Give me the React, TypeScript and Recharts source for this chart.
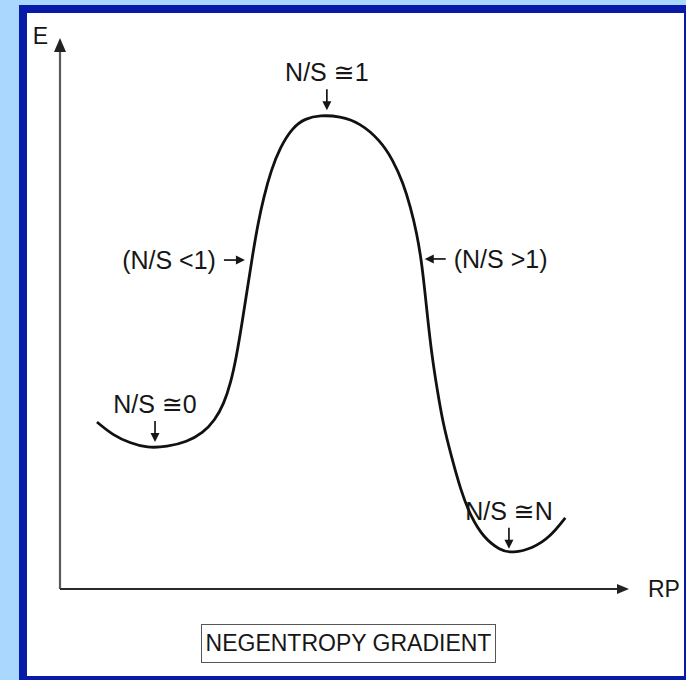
import { LineChart, Line, XAxis, YAxis, ReferenceLine, ReferenceDot } from 'recharts';

// reaction progress (RP) and energy (E), both on a 0-100 scale
const rp = [
  6.5, 9.3, 12.3, 15.3, 18.8, 22.3, 25.1, 27.2, 28.8, 30.0, 31.0, 32.0, 32.9, 33.8, 34.8,
  35.8, 37.1, 38.7, 40.9, 43.1, 45.7, 49.2, 52.7, 56.2, 58.5, 60.3, 61.6, 62.7, 63.5, 64.1,
  64.7, 65.4, 66.3, 67.3, 68.8, 70.4, 72.2, 74.4, 77.3, 79.6, 83.1, 86.1, 88.8,
];
const energy = [
  30.3, 27.9, 26.5, 25.6, 25.8, 26.7, 28.3, 30.6, 33.6, 37.4, 42.1, 48.3, 54.3, 60.3, 66.4,
  71.1, 76.0, 80.2, 83.8, 85.4, 86.0, 85.8, 84.6, 81.5, 77.9, 73.7, 69.3, 64.6, 59.7, 54.3,
  48.3, 42.1, 36.1, 30.1, 24.0, 18.0, 13.1, 9.4, 7.0, 6.5, 7.4, 9.4, 12.9,
];

// annotation arrows: where each arrow points, and which way
const noteText = ['N/S \u22451', 'N/S \u22450', 'N/S \u2245N', '(N/S <1)', '(N/S >1)'];
const noteRp = [46.9, 16.7, 78.9, 32.5, 64.1];
const noteE = [86.9, 26.7, 7.3, 59.7, 59.9];
const noteDir = ['down', 'down', 'down', 'right', 'left'];

const axisNames = { x: 'RP', y: 'E' };
const caption = 'NEGENTROPY GRADIENT';

const curve = rp.map((x, i) => ({ rp: x, e: energy[i] }));

const FONT = '"Liberation Sans", Arial, "DejaVu Sans", sans-serif';
const INK = '#161616';

function NoteShape(props: any) {
  const { cx, cy, text, dir } = props;
  const len = 21;
  if (dir === 'down') {
    return (
      <g>
        <line x1={cx} y1={cy - len} x2={cx} y2={cy - 6} stroke={INK} strokeWidth={1.7} />
        <polygon points={`${cx - 4.5},${cy - 9} ${cx + 4.5},${cy - 9} ${cx},${cy}`} fill={INK} />
        <text x={cx} y={cy - 29} textAnchor="middle" fontSize={25} fontFamily={FONT} fill={INK}>
          {text}
        </text>
      </g>
    );
  }
  const s = dir === 'right' ? -1 : 1;
  return (
    <g>
      <line x1={cx + s * len} y1={cy} x2={cx + s * 6} y2={cy} stroke={INK} strokeWidth={1.7} />
      <polygon
        points={`${cx + s * 9},${cy - 4.5} ${cx + s * 9},${cy + 4.5} ${cx},${cy}`}
        fill={INK}
      />
      <text
        x={cx + s * 29}
        y={cy + 9}
        textAnchor={dir === 'right' ? 'end' : 'start'}
        fontSize={25}
        fontFamily={FONT}
        fill={INK}
      >
        {text}
      </text>
    </g>
  );
}

function ArrowUp(props: any) {
  const { cx, cy } = props;
  return (
    <g>
      <polygon points={`${cx - 6},${cy + 14} ${cx + 6},${cy + 14} ${cx},${cy}`} fill="#222" />
      <text x={cx - 12} y={cy + 6} textAnchor="end" fontSize={23} fontFamily={FONT} fill={INK}>
        {axisNames.y}
      </text>
    </g>
  );
}

function ArrowRight(props: any) {
  const { cx, cy } = props;
  return (
    <g>
      <polygon points={`${cx - 12},${cy - 5} ${cx - 12},${cy + 5} ${cx},${cy}`} fill="#222" />
      <text x={cx + 19} y={cy + 8} fontSize={23} fontFamily={FONT} fill={INK}>
        {axisNames.x}
      </text>
    </g>
  );
}

export default function App() {
  return (
    <div
      style={{
        position: 'absolute',
        left: 0,
        top: 0,
        width: 686,
        height: 680,
        background: '#a9d7fd',
        overflow: 'hidden',
      }}
    >
      <div
        style={{
          position: 'absolute',
          left: 19,
          top: 5,
          width: 667,
          height: 675,
          background: '#0a1aa8',
        }}
      />
      <div
        style={{
          position: 'absolute',
          left: 27,
          top: 13,
          width: 657,
          height: 663,
          background: '#ffffff',
        }}
      />
      <div style={{ position: 'absolute', left: 0, top: 0 }}>
        <LineChart
          width={686}
          height={680}
          data={curve}
          margin={{ top: 38, right: 57, bottom: 91, left: 60 }}
        >
          <XAxis dataKey="rp" type="number" domain={[0, 100]} hide />
          <YAxis type="number" domain={[0, 100]} hide />
          <ReferenceLine
            segment={[{ x: 0, y: 0 }, { x: 0, y: 97.5 }]}
            stroke="#5a5a5a"
            strokeWidth={2.2}
            ifOverflow="visible"
          />
          <ReferenceLine
            segment={[{ x: 0, y: 0 }, { x: 97.9, y: 0 }]}
            stroke="#2a2a2a"
            strokeWidth={2}
            ifOverflow="visible"
          />
          <ReferenceDot x={0} y={100} ifOverflow="visible" shape={ArrowUp} />
          <ReferenceDot x={100} y={0} ifOverflow="visible" shape={ArrowRight} />
          <Line
            dataKey="e"
            type="basis"
            stroke="#111"
            strokeWidth={2.8}
            dot={false}
            isAnimationActive={false}
          />
          {noteText.map((t, i) => (
            <ReferenceDot
              key={t}
              x={noteRp[i]}
              y={noteE[i]}
              ifOverflow="visible"
              shape={(p: any) => <NoteShape {...p} text={t} dir={noteDir[i]} />}
            />
          ))}
        </LineChart>
      </div>
      <div
        style={{
          position: 'absolute',
          left: 201,
          top: 624,
          width: 293,
          height: 37,
          border: '1.5px solid #555',
          fontFamily: FONT,
          fontSize: 23,
          color: INK,
          lineHeight: '37px',
          textAlign: 'center',
          whiteSpace: 'nowrap',
        }}
      >
        {caption}
      </div>
    </div>
  );
}
